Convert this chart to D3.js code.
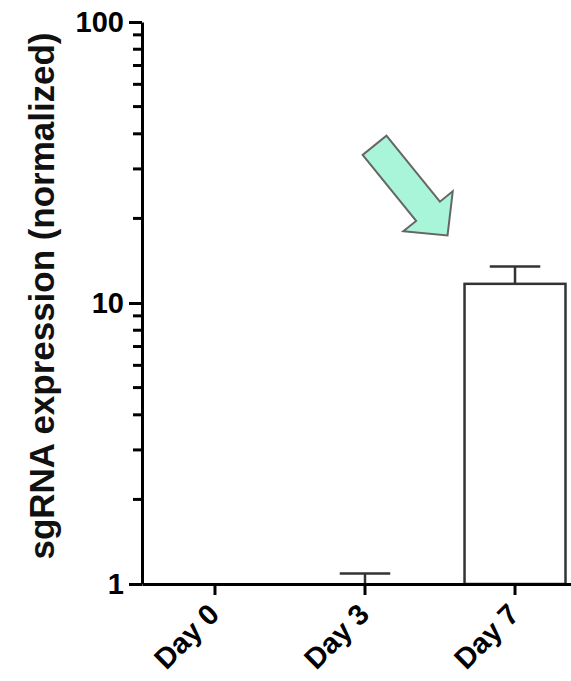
<!DOCTYPE html>
<html>
<head>
<meta charset="utf-8">
<script src="https://cdn.jsdelivr.net/npm/d3@7"></script>
<style>
  html, body { margin: 0; padding: 0; background: #fff; }
  svg { display: block; font-family: "Liberation Sans", Arial, sans-serif; }
</style>
</head>
<body>
<div id="chart"></div>
<script>
const days = ["Day 0", "Day 3", "Day 7"];
const means = [1, 1, 11.7];
const errors = [0, 0.09, 1.8];
const yTicks = [1, 10, 100];
const yTickLabels = ["1", "10", "100"];
const minorTicks = [2, 3, 4, 5, 6, 7, 8, 9, 20, 30, 40, 50, 60, 70, 80, 90];

const width = 571;
const height = 681;
const font = "Liberation Sans, Arial, sans-serif";

const svg = d3.select("#chart").append("svg")
  .attr("width", width)
  .attr("height", height);

const x = d3.scaleBand()
  .domain(days)
  .range([142, 588])
  .paddingInner(0.327)
  .paddingOuter(0.15);

const y = d3.scaleLog()
  .domain([1, 100])
  .range([584, 22]);

// y axis
const yAxis = svg.append("g")
  .attr("transform", "translate(142,0)")
  .call(d3.axisLeft(y)
    .tickValues(yTicks)
    .tickFormat((d, i) => yTickLabels[i])
    .tickSize(13)
    .tickSizeOuter(0)
    .tickPadding(5))
  .attr("font-family", font);
yAxis.select(".domain").attr("stroke-width", 3);
yAxis.selectAll(".tick line").attr("stroke-width", 3);
yAxis.selectAll(".tick text")
  .style("font-size", "29px")
  .style("font-weight", "bold")
  .attr("fill", "#000");

// minor ticks (2..9 in each decade)
svg.append("g")
  .attr("class", "minor")
  .selectAll("line")
  .data(minorTicks)
  .join("line")
  .attr("x1", 133).attr("x2", 142)
  .attr("y1", d => y(d)).attr("y2", d => y(d))
  .attr("stroke", "#000").attr("stroke-width", 3);

// bars
const data = days.map((d, i) => ({ day: d, mean: means[i], err: errors[i] }));

svg.append("g")
  .selectAll("rect")
  .data(data.filter(d => d.mean > 1))
  .join("rect")
  .attr("x", d => x(d.day))
  .attr("y", d => y(d.mean))
  .attr("width", x.bandwidth())
  .attr("height", d => y(1) - y(d.mean))
  .attr("fill", "#fff")
  .attr("stroke", "#333")
  .attr("stroke-width", 2.5);

// error bars
const eb = svg.append("g")
  .selectAll("g")
  .data(data.filter(d => d.err > 0))
  .join("g")
  .attr("stroke", "#333")
  .attr("stroke-width", 2.5);
eb.append("line")
  .attr("x1", d => x(d.day) + x.bandwidth() / 2)
  .attr("x2", d => x(d.day) + x.bandwidth() / 2)
  .attr("y1", d => y(d.mean))
  .attr("y2", d => y(d.mean + d.err));
eb.append("line")
  .attr("x1", d => x(d.day) + x.bandwidth() / 4)
  .attr("x2", d => x(d.day) + x.bandwidth() * 3 / 4)
  .attr("y1", d => y(d.mean + d.err))
  .attr("y2", d => y(d.mean + d.err));

// x axis
const xAxis = svg.append("g")
  .attr("transform", "translate(0,584)")
  .call(d3.axisBottom(x).tickSize(11).tickSizeOuter(0).tickFormat(""));
xAxis.select(".domain").attr("stroke-width", 3);
xAxis.selectAll(".tick line").attr("stroke-width", 3);

svg.append("g")
  .selectAll("text")
  .data(days)
  .join("text")
  .attr("transform", d => `translate(${x(d) + x.bandwidth() / 2 + 6},${616}) rotate(-45)`)
  .attr("text-anchor", "end")
  .style("font-size", "29px")
  .style("font-weight", "bold")
  .attr("fill", "#000")
  .text(d => d);

// y axis title
svg.append("text")
  .attr("transform", "translate(54,296) rotate(-90)")
  .attr("text-anchor", "middle")
  .style("font-size", "35px")
  .style("font-weight", "bold")
  .attr("fill", "#111")
  .attr("textLength", 527)
  .attr("lengthAdjust", "spacingAndGlyphs")
  .text("sgRNA expression (normalized)");

// arrow pointing at the Day 7 bar
const last = data[data.length - 1];
const tipX = x(last.day) - 17;
const tipY = y(last.mean + last.err) - 31;
const arrowShape = [[-116, -15.3], [-31, -15.3], [-31, -31.8], [0, 0], [-31, 31.8], [-31, 15.3], [-116, 15.3]];
svg.append("polygon")
  .attr("points", arrowShape.map(p => p.join(",")).join(" "))
  .attr("transform", `translate(${tipX},${tipY}) rotate(51)`)
  .attr("fill", "#a8f5d9")
  .attr("stroke", "#666")
  .attr("stroke-width", 2)
  .attr("stroke-linejoin", "miter");
</script>
</body>
</html>
